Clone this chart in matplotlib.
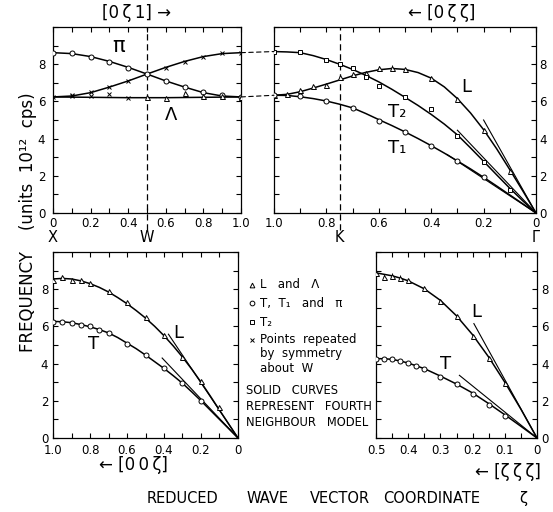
import matplotlib
matplotlib.use("Agg")
import matplotlib.pyplot as plt
from matplotlib.lines import Line2D
from matplotlib.patches import ConnectionPatch

plt.rcParams['font.family'] = ['DejaVu Sans']

# ---- [0 zeta 1] panel (X -> W -> ...) ----
tl_zeta = [0.0, 0.1, 0.2, 0.3, 0.4, 0.5, 0.6, 0.7, 0.8, 0.9, 1.0]
tl_pi_curve = [8.62, 8.57, 8.41, 8.15, 7.83, 7.47, 7.10, 6.77, 6.47, 6.29, 6.24]
tl_sym_curve = [6.24, 6.29, 6.47, 6.77, 7.10, 7.47, 7.83, 8.15, 8.41, 8.57, 8.62]
tl_lam_curve = [6.24, 6.23, 6.22, 6.21, 6.20, 6.20, 6.20, 6.21, 6.22, 6.23, 6.24]
tl_pi_pts = [8.62, 8.58, 8.40, 8.14, 7.81, 7.47, 7.10, 6.79, 6.49, 6.36, 6.24]
tl_lam_x = [0.5, 0.6, 0.7, 0.8, 0.9, 1.0]
tl_lam_pts = [6.21, 6.16, 6.45, 6.30, 6.27, 6.25]
tl_sym_x = [0.0, 0.1, 0.1, 0.2, 0.2, 0.3, 0.3, 0.4, 0.4, 0.6, 0.7, 0.8, 0.9, 1.0]
tl_sym_pts = [6.24, 6.36, 6.27, 6.49, 6.30, 6.79, 6.41, 7.10, 6.18, 7.81, 8.14, 8.40, 8.58, 8.62]

# ---- [0 zeta zeta] panel (K -> Gamma) ----
tr_zeta = [1.0, 0.95, 0.9, 0.85, 0.8, 0.75, 0.7, 0.65, 0.6, 0.55, 0.5,
           0.45, 0.4, 0.35, 0.3, 0.25, 0.2, 0.15, 0.1, 0.05, 0.0]
tr_L_curve = [6.33, 6.38, 6.52, 6.72, 6.93, 7.15, 7.37, 7.56, 7.70, 7.77, 7.72,
              7.55, 7.25, 6.78, 6.15, 5.38, 4.48, 3.45, 2.33, 1.18, 0.0]
tr_T2_curve = [8.68, 8.66, 8.62, 8.46, 8.25, 8.00, 7.72, 7.40, 7.05, 6.65, 6.22,
               5.78, 5.30, 4.78, 4.20, 3.50, 2.78, 2.05, 1.33, 0.65, 0.0]
tr_T1_curve = [6.33, 6.32, 6.25, 6.15, 6.02, 5.85, 5.65, 5.35, 5.02, 4.70, 4.36,
               4.00, 3.62, 3.22, 2.80, 2.37, 1.92, 1.45, 0.97, 0.49, 0.0]
tr_L_x = [1.0, 0.95, 0.9, 0.85, 0.8, 0.75, 0.7, 0.65, 0.6, 0.55, 0.5, 0.4, 0.3, 0.2, 0.1]
tr_L_pts = [6.33, 6.41, 6.63, 6.82, 6.90, 7.30, 7.45, 7.55, 7.78, 7.82, 7.73, 7.27, 6.14, 4.45, 2.27]
tr_T2_x = [1.0, 0.9, 0.8, 0.75, 0.7, 0.65, 0.6, 0.5, 0.4, 0.3, 0.2, 0.1]
tr_T2_pts = [8.68, 8.64, 8.24, 8.00, 7.80, 7.30, 6.85, 6.22, 5.60, 4.15, 2.73, 1.25]
tr_T1_x = [1.0, 0.9, 0.8, 0.7, 0.6, 0.5, 0.4, 0.3, 0.2]
tr_T1_pts = [6.33, 6.30, 6.00, 5.64, 4.96, 4.36, 3.60, 2.78, 1.91]
tr_err_x = [0.6, 0.55]
tr_err_y = [7.78, 7.82]
# initial slopes (sound velocity lines): end points
tr_slope_x = [0.2, 0.3, 0.34]
tr_slope_y = [5.0, 4.45, 3.15]

# ---- [0 0 zeta] panel ----
bl_zeta = [1.0, 0.95, 0.9, 0.85, 0.8, 0.75, 0.7, 0.65, 0.6, 0.55, 0.5,
           0.45, 0.4, 0.35, 0.3, 0.25, 0.2, 0.15, 0.1, 0.05, 0.0]
bl_L_curve = [8.55, 8.58, 8.55, 8.45, 8.30, 8.10, 7.85, 7.55, 7.22, 6.85, 6.45,
              6.00, 5.50, 4.95, 4.35, 3.70, 3.00, 2.26, 1.50, 0.75, 0.0]
bl_T_curve = [6.27, 6.25, 6.20, 6.10, 5.98, 5.83, 5.65, 5.40, 5.10, 4.80, 4.46,
              4.10, 3.74, 3.35, 2.94, 2.48, 2.00, 1.50, 1.00, 0.50, 0.0]
bl_L_x = [1.0, 0.95, 0.9, 0.85, 0.8, 0.7, 0.6, 0.5, 0.4, 0.3, 0.2, 0.1]
bl_L_pts = [8.52, 8.65, 8.52, 8.47, 8.31, 7.90, 7.31, 6.51, 5.53, 4.37, 3.09, 1.66]
bl_T_x = [1.0, 0.95, 0.9, 0.85, 0.8, 0.75, 0.7, 0.6, 0.5, 0.4, 0.3, 0.2]
bl_T_pts = [6.26, 6.24, 6.20, 6.08, 6.00, 5.81, 5.67, 5.08, 4.46, 3.76, 2.94, 1.98]
bl_slope_x = [0.376, 0.41]
bl_slope_y = [5.58, 4.30]

# ---- [zeta zeta zeta] panel ----
br_zeta = [0.5, 0.475, 0.45, 0.425, 0.4, 0.35, 0.3, 0.25, 0.2, 0.15, 0.1, 0.05, 0.0]
br_L_curve = [8.88, 8.80, 8.72, 8.60, 8.45, 8.02, 7.40, 6.57, 5.55, 4.35, 3.00, 1.55, 0.0]
br_T_curve = [4.27, 4.26, 4.23, 4.14, 4.03, 3.73, 3.33, 2.90, 2.42, 1.85, 1.25, 0.63, 0.0]
br_L_x = [0.5, 0.475, 0.45, 0.425, 0.4, 0.35, 0.3, 0.25, 0.2, 0.15, 0.1]
br_L_pts = [8.86, 8.65, 8.72, 8.59, 8.47, 8.06, 7.38, 6.54, 5.51, 4.31, 2.98]
br_T_x = [0.5, 0.475, 0.45, 0.425, 0.4, 0.375, 0.35, 0.3, 0.25, 0.2, 0.15, 0.1]
br_T_pts = [4.26, 4.24, 4.26, 4.13, 4.03, 3.87, 3.73, 3.30, 2.92, 2.39, 1.78, 1.19]
br_err_x = [0.5, 0.475, 0.45, 0.425]
br_err_y = [8.86, 8.65, 8.72, 8.59]
br_slope_x = [0.196, 0.241]
br_slope_y = [6.15, 3.37]

W, H = 553, 512
fig = plt.figure(figsize=(W / 100, H / 100), dpi=100)


def box(l, t, r, b):
    return [l / W, 1 - b / H, (r - l) / W, (b - t) / H]


ax_tl = fig.add_axes(box(53, 27, 241, 213))
ax_tr = fig.add_axes(box(274, 27, 536, 213))
ax_bl = fig.add_axes(box(53, 252, 238, 438))
ax_br = fig.add_axes(box(376, 252, 537, 438))

LW = 1.1
TS = '\u2009'  # thin space
mk = dict(linestyle='none', markersize=3.6, markeredgewidth=0.7,
          markeredgecolor='black', markerfacecolor='white', zorder=4)


def fmt(v):
    return '0' if abs(v) < 1e-9 else f'{v:.1f}'


def style(ax, xlim, xmaj, xmin, right=False, ypad=4, xpad=3):
    ax.set_xlim(*xlim)
    ax.set_ylim(0, 10)
    ax.set_xticks(xmaj)
    ax.set_xticklabels([fmt(v) for v in xmaj])
    ax.set_xticks(xmin, minor=True)
    ax.set_yticks([0, 2, 4, 6, 8])
    ax.set_yticks(range(0, 11), minor=True)
    ax.tick_params(which='both', direction='in', top=True, right=True,
                   length=3.5, width=0.8, labelsize=8.5)
    ax.tick_params(axis='x', pad=xpad)
    ax.tick_params(axis='y', pad=ypad)
    if right:
        ax.tick_params(axis='y', labelleft=False, labelright=True)
    for s in ax.spines.values():
        s.set_linewidth(0.9)


def point_label(ax, x, text):
    ax.text(x, -0.092, text, transform=ax.get_xaxis_transform(),
            ha='center', va='top', fontsize=10.5)


# top-left
ax_tl.plot(tl_zeta, tl_pi_curve, color='black', lw=LW)
ax_tl.plot(tl_zeta, tl_sym_curve, color='black', lw=LW)
ax_tl.plot(tl_zeta, tl_lam_curve, color='black', lw=LW)
ax_tl.plot(tl_zeta, tl_pi_pts, marker='o', **mk)
ax_tl.plot(tl_lam_x, tl_lam_pts, marker='^', **mk)
ax_tl.plot(tl_sym_x, tl_sym_pts, marker='x', linestyle='none', markersize=3.2,
           markeredgewidth=0.7, color='black', zorder=4)
ax_tl.plot([0.5, 0.5], [-0.9, 10], color='black', lw=0.9, ls=(0, (5, 3)), clip_on=False)
style(ax_tl, (0, 1.0), [0, 0.2, 0.4, 0.6, 0.8, 1.0], [i / 10 for i in range(11)], ypad=5.5)
ax_tl.text(0.35, 9.0, 'π', fontsize=15, ha='center', va='center')
ax_tl.text(0.63, 5.25, 'Λ', fontsize=13, ha='center', va='center')
point_label(ax_tl, 0.0, 'X')
point_label(ax_tl, 0.5, 'W')

# top-right
ax_tr.plot(tr_zeta, tr_L_curve, color='black', lw=LW)
ax_tr.plot(tr_zeta, tr_T2_curve, color='black', lw=LW)
ax_tr.plot(tr_zeta, tr_T1_curve, color='black', lw=LW)
for sx, sy in zip(tr_slope_x, tr_slope_y):
    ax_tr.plot([0, sx], [0, sy], color='black', lw=0.8)
ax_tr.errorbar(tr_err_x, tr_err_y, yerr=0.15, fmt='none', ecolor='black', elinewidth=0.7)
ax_tr.plot(tr_L_x, tr_L_pts, marker='^', **mk)
ax_tr.plot(tr_T2_x, tr_T2_pts, marker='s', **{**mk, 'markersize': 3.2})
ax_tr.plot(tr_T1_x, tr_T1_pts, marker='o', **mk)
ax_tr.plot([0.75, 0.75], [-0.9, 10], color='black', lw=0.9, ls=(0, (5, 3)), clip_on=False)
style(ax_tr, (1.0, 0), [1.0, 0.8, 0.6, 0.4, 0.2, 0], [i / 10 for i in range(11)], right=True, ypad=2.5)
ax_tr.text(0.265, 6.8, 'L', fontsize=13, ha='center', va='center')
ax_tr.text(0.53, 5.45, 'T₂', fontsize=13, ha='center', va='center')
ax_tr.text(0.53, 3.5, 'T₁', fontsize=13, ha='center', va='center')
point_label(ax_tr, 0.75, 'K')
point_label(ax_tr, 0.0, 'Γ')

# connectors between the two top panels
for ya, yb in [(tl_pi_pts[0], tr_T2_pts[0]), (tl_pi_pts[-1], tr_T1_pts[0])]:
    con = ConnectionPatch(xyA=(1.0, ya), coordsA=ax_tl.transData,
                          xyB=(1.0, yb), coordsB=ax_tr.transData,
                          color='black', lw=0.8, ls=(0, (4, 3)))
    fig.add_artist(con)

# bottom-left
ax_bl.plot(bl_zeta, bl_L_curve, color='black', lw=LW)
ax_bl.plot(bl_zeta, bl_T_curve, color='black', lw=LW)
for sx, sy in zip(bl_slope_x, bl_slope_y):
    ax_bl.plot([0, sx], [0, sy], color='black', lw=0.8)
ax_bl.plot(bl_L_x, bl_L_pts, marker='^', **mk)
ax_bl.plot(bl_T_x, bl_T_pts, marker='o', **mk)
style(ax_bl, (1.0, 0), [1.0, 0.8, 0.6, 0.4, 0.2, 0], [i / 10 for i in range(11)],
      ypad=3.5, xpad=4.5)
ax_bl.text(0.325, 5.67, 'L', fontsize=13, ha='center', va='center')
ax_bl.text(0.78, 5.08, 'T', fontsize=13, ha='center', va='center')

# bottom-right
ax_br.plot(br_zeta, br_L_curve, color='black', lw=LW)
ax_br.plot(br_zeta, br_T_curve, color='black', lw=LW)
for sx, sy in zip(br_slope_x, br_slope_y):
    ax_br.plot([0, sx], [0, sy], color='black', lw=0.8)
ax_br.errorbar(br_err_x, br_err_y, yerr=0.17, fmt='none', ecolor='black', elinewidth=0.7)
ax_br.plot(br_L_x, br_L_pts, marker='^', **mk)
ax_br.plot(br_T_x, br_T_pts, marker='o', **mk)
style(ax_br, (0.5, 0), [0.5, 0.4, 0.3, 0.2, 0.1, 0], [i / 20 for i in range(11)],
      right=True, ypad=3, xpad=4.5)
ax_br.text(0.19, 6.8, 'L', fontsize=13, ha='center', va='center')
ax_br.text(0.285, 4.0, 'T', fontsize=13, ha='center', va='center')


def fx(px):
    return px / W


def fy(py):
    return 1 - py / H


# direction captions
fig.text(fx(137), fy(13), f'[0{TS}ζ{TS}1] →', fontsize=12, ha='center', va='center')
fig.text(fx(442), fy(13), f'← [0{TS}ζ{TS}ζ]', fontsize=12, ha='center', va='center')
fig.text(fx(133), fy(465), f'← [0{TS}0{TS}ζ]', fontsize=12, ha='center', va='center')
fig.text(fx(508), fy(472), f'← [ζ{TS}ζ{TS}ζ]', fontsize=12, ha='center', va='center')

# axis titles
fig.text(fx(28), fy(222), 'FREQUENCY    (units  10¹²  cps)', rotation=90,
         fontsize=12, ha='center', va='center')
for word, px in [('REDUCED', 147), ('WAVE', 247), ('VECTOR', 310),
                 ('COORDINATE', 383), ('ζ', 519)]:
    fig.text(fx(px), fy(503), word, fontsize=10.5, ha='left', va='baseline')

# legend
legend_rows = [('^', 'L   and   Λ', 285), ('o', 'T,  T₁   and   π', 303),
               ('s', 'T₂', 322), ('x', 'Points  repeated', 340)]
for m, label, py in legend_rows:
    if m == 'x':
        fig.add_artist(Line2D([fx(252)], [fy(py)], marker='x', color='black',
                              markersize=3.2, markeredgewidth=0.7, linestyle='none',
                              transform=fig.transFigure))
    else:
        fig.add_artist(Line2D([fx(252)], [fy(py)], marker=m, markersize=3.4,
                              markeredgewidth=0.7, markeredgecolor='black',
                              markerfacecolor='white', linestyle='none',
                              transform=fig.transFigure))
    fig.text(fx(260), fy(py), label, fontsize=8.5, ha='left', va='center')
fig.text(fx(260), fy(354), 'by  symmetry', fontsize=8.5, ha='left', va='center')
fig.text(fx(260), fy(368), 'about  W', fontsize=8.5, ha='left', va='center')
for line, py in [('SOLID   CURVES', 391), ('REPRESENT   FOURTH', 407),
                 ('NEIGHBOUR   MODEL', 423)]:
    fig.text(fx(246), fy(py), line, fontsize=8.3, ha='left', va='center')

fig.savefig('out.png', dpi=100)
